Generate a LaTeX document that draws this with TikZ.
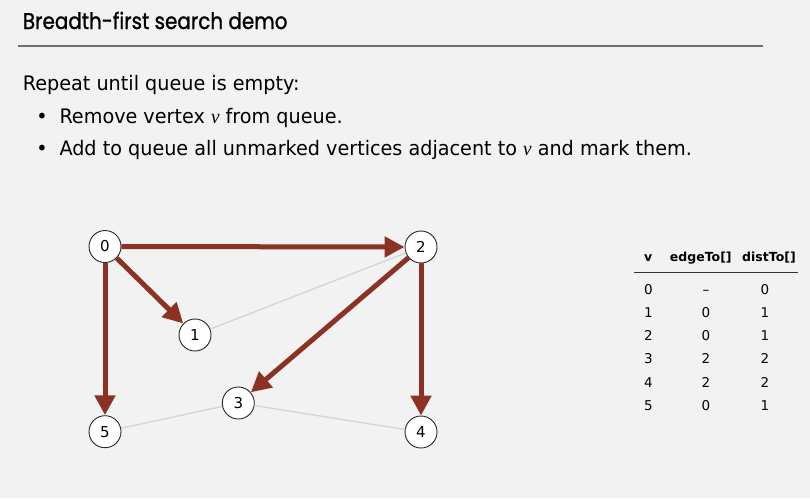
\documentclass[tikz,border=0pt]{standalone}
\usepackage{fontspec}
\setmainfont{DejaVu Sans}
\newfontfamily\titlefont[FakeBold=1.2]{Poppins}
\newfontfamily\vfont{Liberation Serif}
\usetikzlibrary{arrows.meta}
\definecolor{bg}{HTML}{F2F2F2}
\definecolor{tree}{RGB}{139,50,36}
\definecolor{thinc}{HTML}{D4D4D4}
\definecolor{rulec}{HTML}{707070}
\newlength\lenA
\newcommand\bodytxt{\fontsize{20}{24}\selectfont}
\newcommand\vv{{\vfont\itshape v}}
\tikzset{
  vert/.style={circle, draw=black!85, fill=white, line width=0.9pt, minimum size=32pt, inner sep=0pt, font=\fontsize{15}{15}\selectfont},
  treeedge/.style={draw=tree, line width=5pt, -{Triangle[length=20pt,width=20pt]}},
  thinedge/.style={draw=thinc, line width=1.3pt},
  tab/.style={font=\fontsize{13.5}{13.5}\selectfont, inner sep=0pt, anchor=base},
  tabh/.style={font=\fontsize{12.5}{12.5}\selectfont\bfseries, inner sep=0pt, anchor=base},
  txt/.style={anchor=base west, inner sep=0pt},
}
\begin{document}
\settowidth\lenA{\bodytxt Add to queue all unmarked vertices adjacent to \vv\ and mark them.}%
\pgfmathsetmacro\sx{632.4/\lenA}%
\begin{tikzpicture}[x=1pt, y=-1pt]
\fill[bg] (0,0) rectangle (810,498);
\useasboundingbox (0,0) rectangle (810,498);
% title
\node[txt] (title) at (22.7,29) {\resizebox{264.6pt}{17.3pt}{\titlefont Breadth-first search demo}};
\coordinate (tl) at (18.3,46);
\coordinate (tr) at (763,46);
\draw[rulec, line width=2pt] (tl) -- (tr);
% body text
\node[txt] (l1) at (22.7,90.7) {\scalebox{\sx}[1]{\bodytxt Repeat until queue is empty:}};
\node[anchor=base, inner sep=0pt] (b2) at (42,123.3) {\scalebox{\sx}[1]{\bodytxt •}};
\node[txt] (l2) at (59.3,123.3) {\scalebox{\sx}[1]{\bodytxt Remove vertex \vv\ from queue.}};
\node[anchor=base, inner sep=0pt] (b3) at (42,155) {\scalebox{\sx}[1]{\bodytxt •}};
\node[txt] (l3) at (59.3,155) {\scalebox{\sx}[1]{\bodytxt Add to queue all unmarked vertices adjacent to \vv\ and mark them.}};
% graph
\node[vert] (n0) at (105,246.5) {0};
\node[vert] (n1) at (195,335) {1};
\node[vert] (n2) at (421,247) {2};
\node[vert] (n3) at (238.3,403) {3};
\node[vert] (n4) at (421,432) {4};
\node[vert] (n5) at (105,431.7) {5};
\draw[thinedge] (n2) -- (n1);
\draw[thinedge] (n3) -- (n5);
\draw[thinedge] (n3) -- (n4);
\draw[treeedge] (n0) -- (n2);
\draw[treeedge] (n0) -- (n1);
\draw[treeedge] (n0) -- (n5);
\draw[treeedge] (n2) -- (n3);
\draw[treeedge] (n2) -- (n4);
% table
\node[tabh] (hv) at (648.3,261.5) {v};
\node[tabh] (he) at (700.8,261.5) {edgeTo[]};
\node[tabh] (hd) at (769,261.5) {distTo[]};
\coordinate (rl) at (634,272.3);
\coordinate (rr) at (797.7,272.3);
\draw[black!80, line width=1pt] (rl) -- (rr);
\foreach \v/\e/\d [count=\i from 0] in {0/\textendash/0, 1/0/1, 2/0/1, 3/2/2, 4/2/2, 5/0/1} {
  \pgfmathsetmacro\yy{294.3+23.2*\i}
  \node[tab] (tv\i) at (648.3,\yy) {\v};
  \node[tab] (te\i) at (706,\yy) {\e};
  \node[tab] (td\i) at (765,\yy) {\d};
}
\end{tikzpicture}
\end{document}
